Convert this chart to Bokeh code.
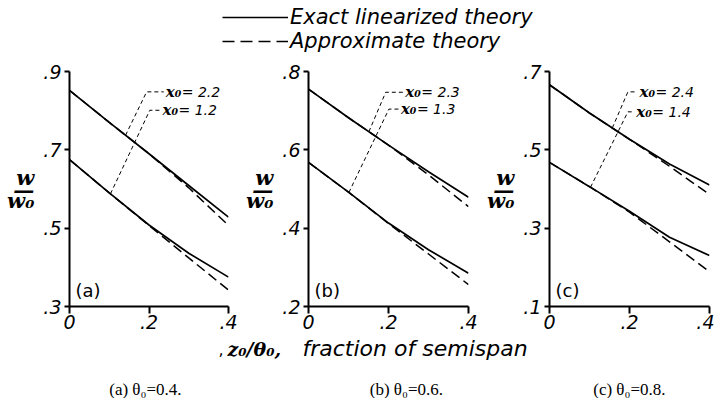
import numpy as np
from bokeh.plotting import figure
from bokeh.models import Range1d, FixedTicker, Label
from bokeh.layouts import column, row
from bokeh.embed import file_html
from bokeh.resources import INLINE

# spanwise station z0/theta0, fraction of semispan
x_frac = [0.0, 0.1, 0.2, 0.3, 0.4]

# theta0 = 0.4 : w/w0 for x0 = 2.2 (upper) and x0 = 1.2 (lower)
a_exact_hi = [0.852, 0.770, 0.690, 0.609, 0.528]
a_approx_hi = [0.852, 0.770, 0.690, 0.603, 0.507]
a_exact_lo = [0.675, 0.590, 0.508, 0.436, 0.375]
a_approx_lo = [0.675, 0.590, 0.507, 0.424, 0.342]
a_x0 = [2.2, 1.2]

# theta0 = 0.6 : x0 = 2.3 (upper) and x0 = 1.3 (lower)
b_exact_hi = [0.755, 0.682, 0.612, 0.544, 0.479]
b_approx_hi = [0.755, 0.682, 0.612, 0.536, 0.455]
b_exact_lo = [0.568, 0.492, 0.413, 0.345, 0.285]
b_approx_lo = [0.568, 0.492, 0.412, 0.334, 0.256]
b_x0 = [2.3, 1.3]

# theta0 = 0.8 : x0 = 2.4 (upper) and x0 = 1.4 (lower)
c_exact_hi = [0.666, 0.594, 0.527, 0.464, 0.410]
c_approx_hi = [0.666, 0.594, 0.527, 0.458, 0.386]
c_exact_lo = [0.468, 0.406, 0.343, 0.277, 0.230]
c_approx_lo = [0.468, 0.406, 0.341, 0.265, 0.189]
c_x0 = [2.4, 1.4]

theta0 = [0.4, 0.6, 0.8]
panel_tags = ["(a)", "(b)", "(c)"]

x_ticks = [0.0, 0.2, 0.4]
x_tick_labels = ["0", ".2", ".4"]
a_y_ticks = [0.3, 0.5, 0.7, 0.9]
a_y_labels = [".3", ".5", ".7", ".9"]
b_y_ticks = [0.2, 0.4, 0.6, 0.8]
b_y_labels = [".2", ".4", ".6", ".8"]
c_y_ticks = [0.1, 0.3, 0.5, 0.7]
c_y_labels = [".1", ".3", ".5", ".7"]

SANS = "DejaVu Sans"
SERIF = "DejaVu Serif"

panels = [
    dict(hi=(a_exact_hi, a_approx_hi), lo=(a_exact_lo, a_approx_lo), x0=a_x0,
         yt=a_y_ticks, yl=a_y_labels, width=238, left=69, right=10,
         # leader geometry: (attach x, corner x, corner y, end x)
         lead_hi=(0.141, 0.194, 0.848, 0.237), lead_lo=(0.103, 0.202, 0.801, 0.229)),
    dict(hi=(b_exact_hi, b_approx_hi), lo=(b_exact_lo, b_approx_lo), x0=b_x0,
         yt=b_y_ticks, yl=b_y_labels, width=240, left=70, right=10,
         lead_hi=(0.151, 0.193, 0.747, 0.237), lead_lo=(0.101, 0.201, 0.704, 0.226)),
    dict(hi=(c_exact_hi, c_approx_hi), lo=(c_exact_lo, c_approx_lo), x0=c_x0,
         yt=c_y_ticks, yl=c_y_labels, width=236, left=71, right=5,
         lead_hi=(0.157, 0.196, 0.648, 0.220), lead_lo=(0.1025, 0.196, 0.597, 0.212)),
]


def make_panel(spec, tag):
    y0, y1 = spec["yt"][0], spec["yt"][-1]
    p = figure(width=spec["width"], height=278,
               x_range=Range1d(0, 0.4), y_range=Range1d(y0, y1),
               output_backend="svg", toolbar_location=None,
               min_border_left=spec["left"], min_border_right=spec["right"],
               min_border_top=13, min_border_bottom=30)
    p.grid.visible = False
    p.outline_line_color = None
    p.background_fill_color = "white"
    p.border_fill_color = "white"

    for ax, ticks, labels in ((p.xaxis[0], x_ticks, x_tick_labels),
                              (p.yaxis[0], spec["yt"], spec["yl"])):
        ax.ticker = FixedTicker(ticks=ticks)
        ax.major_label_overrides = dict(zip(ticks, labels))
        ax.axis_line_width = 2
        ax.axis_line_color = "black"
        ax.major_tick_line_width = 2
        ax.major_tick_in = 0
        ax.minor_tick_line_color = None
        ax.major_label_text_font = SANS
        ax.major_label_text_font_style = "italic"
        ax.major_label_text_font_size = "19px"
        ax.major_label_text_color = "black"
    p.xaxis.major_tick_out = 7
    p.xaxis.major_label_standoff = 1
    p.yaxis.major_tick_out = 5
    p.yaxis.major_label_standoff = 3

    # w / w0 ordinate label, stacked as a fraction
    p.yaxis.axis_label = "w\n\u2014\nw\u2080"
    p.yaxis.axis_label_orientation = "horizontal"
    p.yaxis.axis_label_text_font = SERIF
    p.yaxis.axis_label_text_font_style = "bold italic"
    p.yaxis.axis_label_text_font_size = "21px"
    p.yaxis.axis_label_text_line_height = 0.45
    p.yaxis.axis_label_text_color = "black"
    p.yaxis.axis_label_standoff = 6

    # curves: exact (solid) and approximate (dashed)
    for exact, approx in (spec["hi"], spec["lo"]):
        p.line(x_frac, approx, line_color="black", line_width=1.5, line_dash="10 5")
        p.line(x_frac, exact, line_color="black", line_width=1.7)

    # leader lines to the x0 labels
    for (ax_, cx, cy, ex), exact, x0 in ((spec["lead_hi"], spec["hi"][0], spec["x0"][0]),
                                          (spec["lead_lo"], spec["lo"][0], spec["x0"][1])):
        ay = float(np.interp(ax_, x_frac, exact))
        p.line([ax_, cx, ex], [ay, cy, cy], line_color="black", line_width=1,
               line_dash="4 3")
        p.add_layout(Label(x=ex, y=cy, x_offset=2, text="x\u2080", text_font=SERIF,
                           text_font_style="bold italic", text_font_size="15px",
                           text_baseline="middle", text_color="black"))
        p.add_layout(Label(x=ex, y=cy, x_offset=18, text=f"= {x0}", text_font=SANS,
                           text_font_style="italic", text_font_size="14px",
                           text_baseline="middle", text_color="black"))

    # panel tag
    p.add_layout(Label(x=0.015, y=y0 + 0.04, text=tag, text_font=SANS,
                       text_font_size="18px", text_baseline="middle", text_color="black"))
    return p


panel_figs = [make_panel(s, t) for s, t in zip(panels, panel_tags)]

# legend strip
top = figure(width=714, height=58, x_range=Range1d(0, 1), y_range=Range1d(0, 1),
             x_axis_location=None, y_axis_location=None,
             output_backend="svg", toolbar_location=None,
             min_border_left=0, min_border_right=0, min_border_top=0, min_border_bottom=0)
top.outline_line_color = None
top.grid.visible = False
# single-point renderers: they draw nothing themselves, only carry the legend samples
top.line(x=[2], y=[2], line_color="black", line_width=1.6,
         legend_label="Exact linearized theory")
top.line(x=[2], y=[2], line_color="black", line_width=1.5, line_dash="12 6",
         legend_label="Approximate theory")
lg = top.legend[0]
lg.location = (222, 5)
lg.border_line_color = None
lg.background_fill_alpha = 0
lg.padding = 0
lg.margin = 0
lg.spacing = 0
lg.label_standoff = 2
lg.glyph_width = 66
lg.glyph_height = 22
lg.label_height = 22
lg.label_text_font = SANS
lg.label_text_font_style = "italic"
lg.label_text_font_size = "21px"
lg.label_text_baseline = "middle"
lg.label_text_color = "black"

# abscissa title and captions
bottom = figure(width=714, height=62, x_range=Range1d(0, 714), y_range=Range1d(0, 62),
                x_axis_location=None, y_axis_location=None,
                output_backend="svg", toolbar_location=None,
                min_border_left=0, min_border_right=0, min_border_top=0, min_border_bottom=0)
bottom.outline_line_color = None
bottom.grid.visible = False
bottom.add_layout(Label(x=218, y=50, text=",", text_font=SANS, text_font_size="16px",
                        text_baseline="middle", text_color="black"))
bottom.add_layout(Label(x=227, y=50, text="z\u2080/\u03b8\u2080,", text_font=SERIF,
                        text_font_style="bold italic", text_font_size="19px",
                        text_baseline="middle", text_color="black"))
bottom.add_layout(Label(x=302, y=50, text="fraction of semispan", text_font=SANS,
                        text_font_style="italic", text_font_size="22px",
                        text_baseline="middle", text_color="black"))
for cx, tag, th in zip([147, 408, 631], panel_tags, theta0):
    bottom.add_layout(Label(x=cx, y=9, text=f"{tag}  \u03b8\u2080={th}.",
                            text_font="Liberation Serif", text_font_size="17px",
                            text_align="center", text_baseline="middle",
                            text_color="black"))

layout = column(top, row(*panel_figs), bottom)
open("out.html", "w").write(file_html(layout, INLINE))
